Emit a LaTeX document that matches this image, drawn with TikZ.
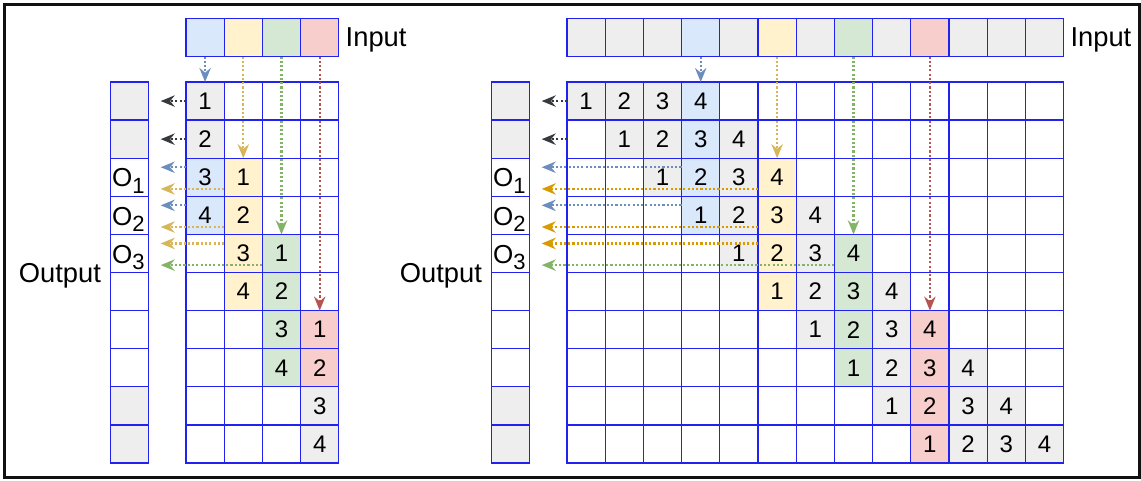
\documentclass[tikz,border=0pt]{standalone}
\usepackage{fontspec}
\setmainfont{Liberation Sans}
\usepackage{xcolor}
\usepackage{tikz}
\usetikzlibrary{arrows.meta, positioning}
\definecolor{GridBlue}{HTML}{2222EE}
\definecolor{CellBlue}{HTML}{DAE8FC}
\definecolor{CellYellow}{HTML}{FFF2CC}
\definecolor{CellGreen}{HTML}{D5E8D4}
\definecolor{CellRed}{HTML}{F8CECC}
\definecolor{CellGray}{HTML}{EEEEEE}
\definecolor{ArrBlue}{HTML}{6C8EBF}
\definecolor{ArrYellow}{HTML}{D6B656}
\definecolor{ArrOrange}{HTML}{D79B00}
\definecolor{ArrGreen}{HTML}{82B366}
\definecolor{ArrRed}{HTML}{B85450}
\definecolor{ArrDark}{HTML}{36393D}
\definecolor{FrameBlack}{HTML}{111111}

\begin{document}
\begin{tikzpicture}[
  x=0.75pt, y=-0.75pt,
  cell/.style={rectangle, draw=GridBlue, line width=1pt, fill=white,
               minimum width=28.65pt, minimum height=28.575pt,
               inner sep=0pt, outer sep=0pt, font=\fontsize{18}{18}\selectfont},
  lbl/.style={inner sep=0pt, text depth=0pt, font=\fontsize{20.5}{24}\selectfont},
  olbl/.style={inner sep=0pt, anchor=base west, font=\fontsize{19.5}{22}\selectfont},
  arr/.style={-{Stealth[length=10.5pt, width=8.5pt, inset=3.5pt]}, line width=1.7pt,
              dash pattern=on 1.6pt off 1.6pt},
]
\useasboundingbox (0,0) rectangle (1141,480);
\draw[line width=2.25pt, FrameBlack] (4.7,4.6) rectangle (1139.2,477.5);

% left: 4 inputs
\foreach \c/\f in {0/CellBlue, 1/CellYellow, 2/CellGreen, 3/CellRed}
  \node[cell, fill=\f] (lin-\c) at ({205.1+38.2*\c}, 37.5) {};
\foreach \r in {0,...,9}
  \foreach \c in {0,...,3}
    \node[cell] (lg-\r-\c) at ({205.1+38.2*\c}, {101.05+38.1*\r}) {};
\foreach \r/\c/\v/\f in {0/0/1/CellGray, 1/0/2/CellGray, 2/0/3/CellBlue, 3/0/4/CellBlue,
    2/1/1/CellYellow, 3/1/2/CellYellow, 4/1/3/CellYellow, 5/1/4/CellYellow,
    4/2/1/CellGreen, 5/2/2/CellGreen, 6/2/3/CellGreen, 7/2/4/CellGreen,
    6/3/1/CellRed, 7/3/2/CellRed, 8/3/3/CellGray, 9/3/4/CellGray}
  \node[cell, fill=\f] at (lg-\r-\c) {\v};

% right: 13 inputs
\foreach \c in {0,...,12}
  \node[cell, fill=CellGray] (rin-\c) at ({586.1+38.2*\c}, 37.5) {};
\foreach \c/\f in {3/CellBlue, 5/CellYellow, 7/CellGreen, 9/CellRed}
  \node[cell, fill=\f] at (rin-\c) {};
\foreach \r in {0,...,9}
  \foreach \c in {0,...,12}
    \node[cell] (rg-\r-\c) at ({586.1+38.2*\c}, {101.05+38.1*\r}) {};
\foreach \r in {0,...,9}
  \foreach \k in {1,...,4}{
    \pgfmathtruncatemacro\c{\r+\k-1}
    \node[cell, fill=CellGray] at (rg-\r-\c) {\k};
  }
\foreach \c/\f in {3/CellBlue, 5/CellYellow, 7/CellGreen, 9/CellRed}
  \foreach \k in {1,...,4}{
    \pgfmathtruncatemacro\r{\c-\k+1}
    \node[cell, fill=\f] at (rg-\r-\c) {\k};
  }

% outputs
\foreach \r/\f in {0/CellGray, 1/CellGray, 2/white, 3/white, 4/white,
    5/white, 6/white, 7/white, 8/CellGray, 9/CellGray}{
  \node[cell, fill=\f] (lout-\r) at (129.6, {101.05+38.1*\r}) {};
  \node[cell, fill=\f] (rout-\r) at (510.6, {101.05+38.1*\r}) {};
}
\foreach \r/\i in {2/1, 3/2, 4/3}{
  \node[olbl] at ([xshift=1pt, yshift=7pt]lout-\r.south west)
    {O\raisebox{-5pt}{\fontsize{16.5}{16.5}\selectfont\i}};
  \node[olbl] at ([xshift=1pt, yshift=7pt]rout-\r.south west)
    {O\raisebox{-5pt}{\fontsize{16.5}{16.5}\selectfont\i}};
}

\node[lbl, right=5pt of lin-3] {Input};
\node[lbl, right=5pt of rin-12] {Input};
\node[lbl, left=7pt of lout-4.south west] {Output};
\node[lbl, left=7pt of rout-4.south west] {Output};

\draw[arr, ArrBlue] (lin-0.south) -- (lg-0-0.north);
\draw[arr, ArrYellow] (lin-1.south) -- (lg-2-1.north);
\draw[arr, ArrGreen] (lin-2.south) -- (lg-4-2.north);
\draw[arr, ArrRed] (lin-3.south) -- (lg-6-3.north);
\draw[arr, ArrDark] (lg-0-0.west) -- ([xshift=9pt]lout-0.east);
\draw[arr, ArrDark] (lg-1-0.west) -- ([xshift=9pt]lout-1.east);
\draw[arr, ArrBlue] ([yshift=7.5pt]lg-2-0.west) -- ([xshift=9pt, yshift=7.5pt]lout-2.east);
\draw[arr, ArrYellow] ([yshift=-8.75pt]lg-2-1.west) -- ([xshift=9pt, yshift=-8.75pt]lout-2.east);
\draw[arr, ArrBlue] ([yshift=7.5pt]lg-3-0.west) -- ([xshift=9pt, yshift=7.5pt]lout-3.east);
\draw[arr, ArrYellow] ([yshift=-8.75pt]lg-3-1.west) -- ([xshift=9pt, yshift=-8.75pt]lout-3.east);
\draw[arr, ArrYellow] ([yshift=7.5pt]lg-4-1.west) -- ([xshift=9pt, yshift=7.5pt]lout-4.east);
\draw[arr, ArrGreen] ([yshift=-8.75pt]lg-4-2.west) -- ([xshift=9pt, yshift=-8.75pt]lout-4.east);

\draw[arr, ArrBlue] (rin-3.south) -- (rg-0-3.north);
\draw[arr, ArrYellow] (rin-5.south) -- (rg-2-5.north);
\draw[arr, ArrGreen] (rin-7.south) -- (rg-4-7.north);
\draw[arr, ArrRed] (rin-9.south) -- (rg-6-9.north);
\draw[arr, ArrDark] (rg-0-0.west) -- ([xshift=9pt]rout-0.east);
\draw[arr, ArrDark] (rg-1-0.west) -- ([xshift=9pt]rout-1.east);
\draw[arr, ArrBlue] ([yshift=7.5pt]rg-2-3.west) -- ([xshift=9pt, yshift=7.5pt]rout-2.east);
\draw[arr, ArrOrange] ([yshift=-8.75pt]rg-2-5.west) -- ([xshift=9pt, yshift=-8.75pt]rout-2.east);
\draw[arr, ArrBlue] ([yshift=7.5pt]rg-3-3.west) -- ([xshift=9pt, yshift=7.5pt]rout-3.east);
\draw[arr, ArrOrange] ([yshift=-8.75pt]rg-3-5.west) -- ([xshift=9pt, yshift=-8.75pt]rout-3.east);
\draw[arr, ArrOrange] ([yshift=7.5pt]rg-4-5.west) -- ([xshift=9pt, yshift=7.5pt]rout-4.east);
\draw[arr, ArrGreen] ([yshift=-8.75pt]rg-4-7.west) -- ([xshift=9pt, yshift=-8.75pt]rout-4.east);

\end{tikzpicture}
\end{document}
